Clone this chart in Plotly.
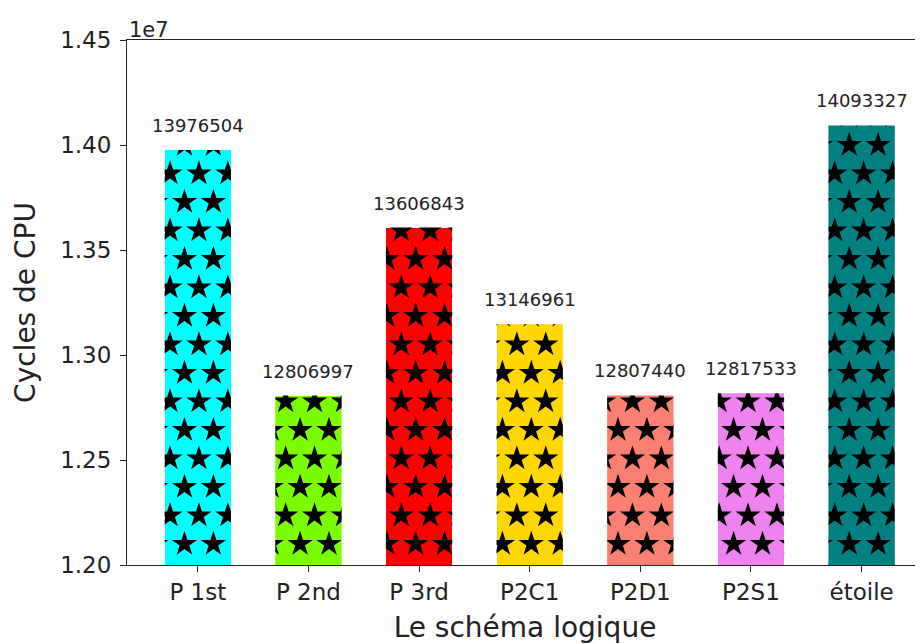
import plotly.graph_objects as go

# données
schemas = ['P 1st', 'P 2nd', 'P 3rd', 'P2C1', 'P2D1', 'P2S1', 'étoile']
cycles = [13976504, 12806997, 13606843, 13146961, 12807440, 12817533, 14093327]
couleurs = ['#00FFFF', '#7CFC00', '#FF0000', '#FFD700', '#FA8072', '#EE82EE', '#008080']
y_ticks = [1.20e7, 1.25e7, 1.30e7, 1.35e7, 1.40e7, 1.45e7]

# géométrie de la figure (pixels) ; la page ajoute une marge de 8 px
PAGE = 8
W, H = 923 - PAGE, 644 - PAGE
ML, MR, MT, MB = 127 - PAGE, 0, 40 - PAGE, 79
X_RANGE = [-0.64, 6.555]
Y_RANGE = [1.20e7, 1.45e7]
LARGEUR = 0.6
px_x = (W - ML - MR) / (X_RANGE[1] - X_RANGE[0])   # pixels par unité x
px_y = (H - MT - MB) / (Y_RANGE[1] - Y_RANGE[0])   # pixels par unité y


# coordonnées écran (avec la marge de page) <-> données
def to_px(x, y):
    return PAGE + ML + (x - X_RANGE[0]) * px_x, PAGE + MT + (Y_RANGE[1] - y) * px_y


def to_data(px, py):
    return X_RANGE[0] + (px - PAGE - ML) / px_x, Y_RANGE[1] - (py - PAGE - MT) / px_y


x = list(range(len(schemas)))

fig = go.Figure()
fig.add_trace(go.Bar(x=x, y=cycles, width=LARGEUR, marker=dict(color=couleurs, line=dict(width=0)),
                     showlegend=False, hoverinfo='skip'))

# motif d'étoiles (hachure '*') : grille globale en pixels, gardée sur les barres
pas_x, pas_y = 28.9, 28.5
bas_px = to_px(0, Y_RANGE[0])[1]
sx, sy = [], []
for k in range(20):
    py = 544 - pas_y * k
    x0 = 618 if k % 2 == 0 else 618 + pas_x / 2
    for j in range(-25, 15):
        px = x0 + pas_x * j
        xd, yd = to_data(px, py)
        for i, v in enumerate(cycles):
            gauche, _ = to_px(i - LARGEUR / 2, 0)
            droite, _ = to_px(i + LARGEUR / 2, 0)
            _, haut = to_px(0, v)
            if gauche - 10 <= px <= droite + 10 and py >= haut - 10 and py < bas_px:
                sx.append(xd)
                sy.append(yd)
fig.add_trace(go.Scatter(x=sx, y=sy, mode='markers', showlegend=False, hoverinfo='skip',
                         marker=dict(symbol='star', size=19, color='black', line=dict(width=0))))

# masques blancs hors des barres pour couper les étoiles
dx = 1.5 / px_x
dy = 1.5 / px_y
bords = [X_RANGE[0] + dx]
for i in x:
    bords += [i - LARGEUR / 2, i + LARGEUR / 2]
bords.append(X_RANGE[1])
for a, b in zip(bords[0::2], bords[1::2]):
    fig.add_shape(type='rect', x0=a, x1=b, y0=Y_RANGE[0] + dy, y1=Y_RANGE[1] - dy,
                  fillcolor='white', line=dict(width=0), layer='above')
for i, v in enumerate(cycles):
    fig.add_shape(type='rect', x0=i - LARGEUR / 2 - dx, x1=i + LARGEUR / 2 + dx, y0=v,
                  y1=Y_RANGE[1] - dy, fillcolor='white', line=dict(width=0), layer='above')

# étiquettes de valeur
for i, v in enumerate(cycles):
    fig.add_annotation(x=i, y=v, text=str(v), showarrow=False, yanchor='bottom', yshift=12,
                       font=dict(size=18, color='#222'))

fig.add_annotation(xref='paper', yref='paper', x=0, y=1, text='1e7', showarrow=False,
                   xanchor='left', yanchor='bottom', yshift=-4, font=dict(size=21, color='#222'))

fig.update_layout(
    width=W, height=H,
    margin=dict(l=ML, r=MR, t=MT, b=MB, autoexpand=False),
    plot_bgcolor='white', paper_bgcolor='white',
    font=dict(family='DejaVu Sans', color='#222'),
    bargap=0,
)
fig.update_xaxes(range=X_RANGE, tickvals=x, ticktext=schemas, showline=True, linecolor='#222',
                 linewidth=1, mirror=True, ticks='outside', ticklen=6, tickcolor='#222',
                 showgrid=False, zeroline=False, tickfont=dict(size=23), automargin=False,
                 title=dict(text='Le schéma logique', font=dict(size=28), standoff=13))
fig.update_yaxes(range=Y_RANGE, tickvals=y_ticks, ticktext=[f'{t / 1e7:.2f}' for t in y_ticks],
                 showline=True, linecolor='#222', linewidth=1, mirror=False, ticks='outside',
                 ticklen=6, tickcolor='#222', showgrid=False, zeroline=False, tickfont=dict(size=23),
                 automargin=False, ticklabelstandoff=4,
                 title=dict(text='Cycles de CPU', font=dict(size=28), standoff=16))

fig.write_html('out.html')
